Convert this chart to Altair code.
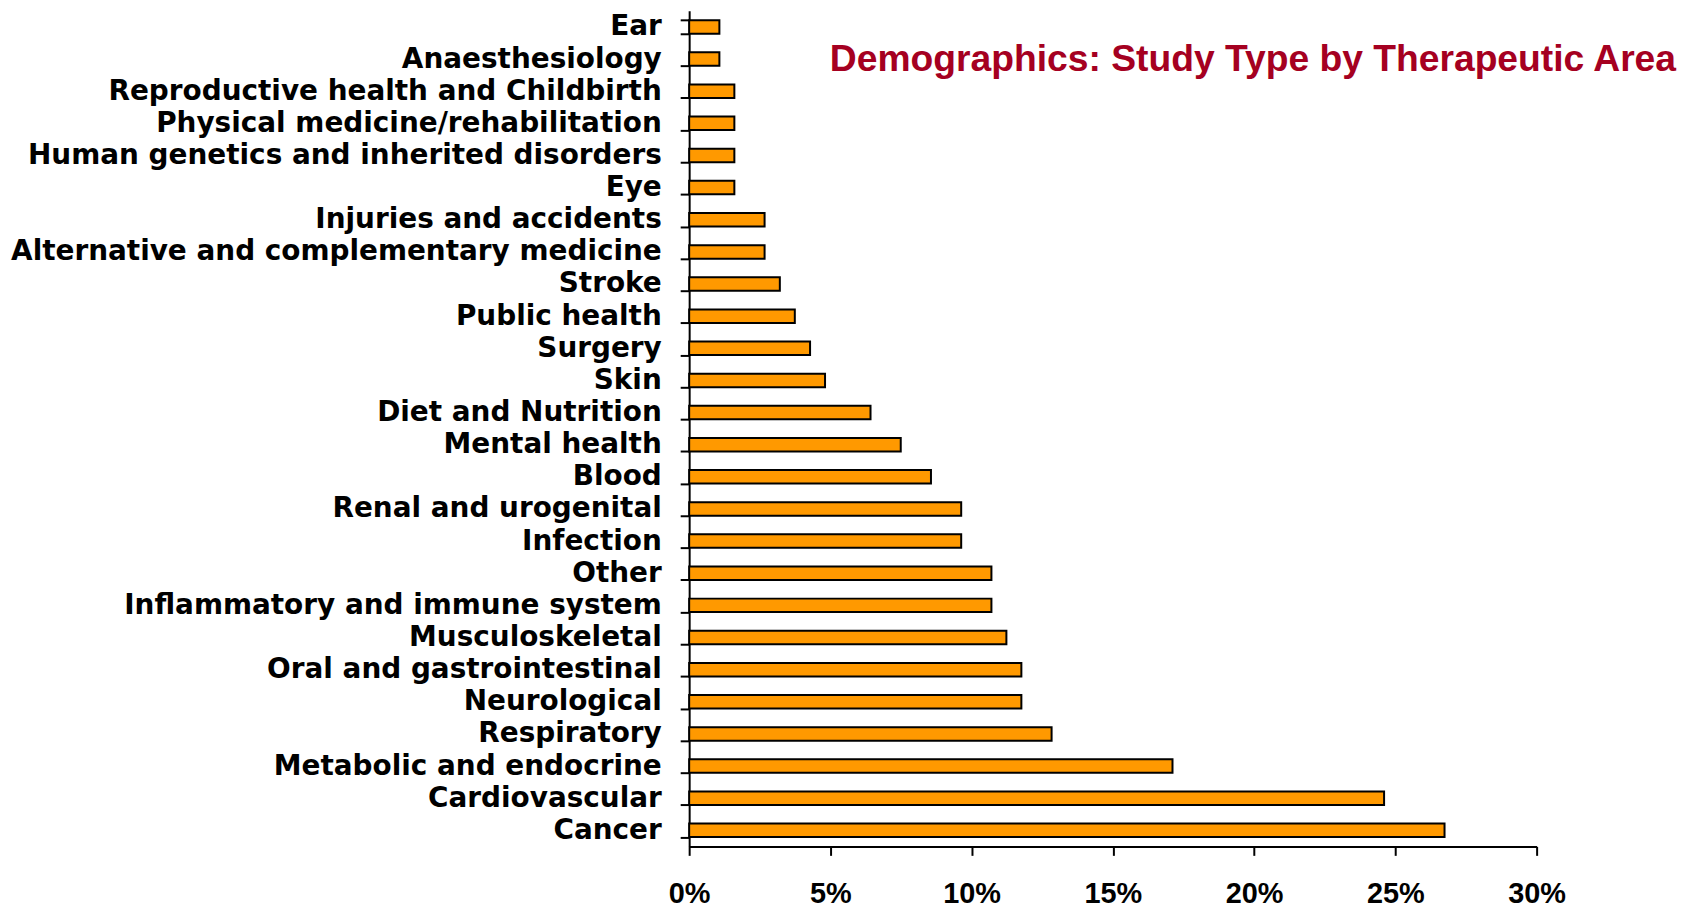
import altair as alt
import pandas as pd

categories = [
    "Ear", "Anaesthesiology", "Reproductive health and Childbirth",
    "Physical medicine/rehabilitation", "Human genetics and inherited disorders",
    "Eye", "Injuries and accidents", "Alternative and complementary medicine",
    "Stroke", "Public health", "Surgery", "Skin", "Diet and Nutrition",
    "Mental health", "Blood", "Renal and urogenital", "Infection", "Other",
    "Inflammatory and immune system", "Musculoskeletal",
    "Oral and gastrointestinal", "Neurological", "Respiratory",
    "Metabolic and endocrine", "Cardiovascular", "Cancer",
]
values = [
    1.07, 1.07, 1.60, 1.60, 1.60, 1.60, 2.67, 2.67, 3.21, 3.74, 4.28, 4.81,
    6.42, 7.49, 8.56, 9.63, 9.63, 10.70, 10.70, 11.23, 11.76, 11.76, 12.83,
    17.11, 24.60, 26.74,
]
x_ticks = [0, 5, 10, 15, 20, 25, 30]
title_text = "Demographics: Study Type by Therapeutic Area"

df = pd.DataFrame({"area": categories, "pct": values})

bars = alt.Chart(df).mark_bar(
    fill="#FF9900", stroke="black", strokeWidth=2
).encode(
    x=alt.X(
        "pct:Q",
        scale=alt.Scale(domain=[0, 30], nice=False),
        axis=alt.Axis(
            values=x_ticks, title=None, grid=False, labelFlush=False,
            labelExpr="datum.value + '%'",
            labelFont="Liberation Sans", labelFontSize=29, labelFontWeight="bold",
            labelColor="black", labelPadding=24,
            tickSize=9, tickWidth=2, tickColor="black",
            domainColor="black", domainWidth=2,
        ),
    ),
    y=alt.Y(
        "area:N",
        sort=categories,
        scale=alt.Scale(paddingInner=0.58, paddingOuter=0.29),
        axis=alt.Axis(
            title=None, grid=False, tickBand="extent",
            labelFont="DejaVu Sans", labelFontSize=28, labelFontWeight="bold",
            labelColor="black", labelPadding=19, labelLimit=1000,
            tickSize=9, tickWidth=2, tickColor="black",
            domainColor="black", domainWidth=2,
        ),
    ),
)

title = alt.Chart(pd.DataFrame({"t": [title_text]})).mark_text(
    font="Liberation Sans", fontSize=37.4, fontWeight="bold", color="#A50021",
    align="right", baseline="alphabetic",
).encode(
    text="t:N",
    x=alt.value(991),
    y=alt.value(60),
)

chart = alt.layer(bars, title).properties(
    width=851, height=839,
    autosize=alt.AutoSizeParams(type="none"),
    padding={"left": 684, "top": 1, "right": 150, "bottom": 62},
).configure_view(stroke=None)

chart.save("out.html", embed_options={"renderer": "svg", "actions": False})
